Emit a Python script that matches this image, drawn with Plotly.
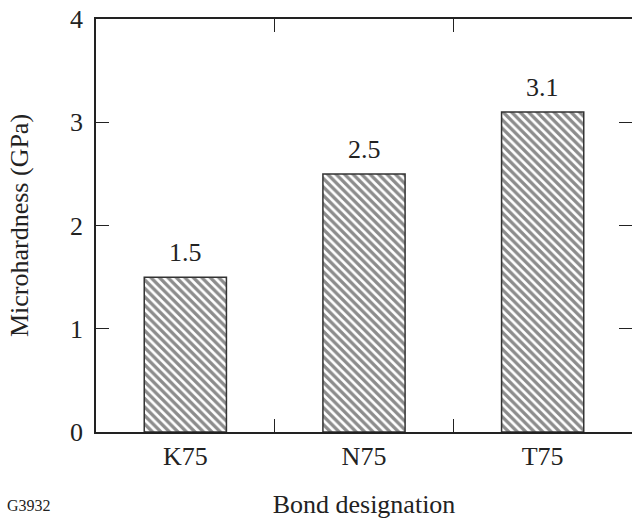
import plotly.graph_objects as go

# Bond microhardness data
bonds = ["K75", "N75", "T75"]
hardness = [1.5, 2.5, 3.1]
hardness_labels = ["1.5", "2.5", "3.1"]
y_ticks = [0, 1, 2, 3, 4]

FONT = "Liberation Serif"
INK = "#222222"
FS = 26

fig = go.Figure()

fig.add_trace(go.Bar(
    x=bonds,
    y=hardness,
    width=0.46,
    marker=dict(
        color="white",
        line=dict(color="#333333", width=1.5),
        pattern=dict(shape="\\", size=6, solidity=0.55,
                     fgcolor="#1a1a1a", bgcolor="white"),
    ),
    showlegend=False,
))

# right-hand inward ticks without a frame line
fig.add_trace(go.Scatter(x=[bonds[0]], y=[0], yaxis="y2", mode="markers",
                         marker=dict(opacity=0), showlegend=False,
                         hoverinfo="skip"))

# value labels above each bar
annotations = [
    dict(x=b, y=v, xref="x", yref="y", text=t, showarrow=False,
         yanchor="bottom", yshift=8,
         font=dict(family=FONT, size=FS, color=INK))
    for b, v, t in zip(bonds, hardness, hardness_labels)
]
annotations.append(dict(
    text="G3932", x=-91 / 536, y=-(505 - 432) / 413,
    xref="paper", yref="paper", xanchor="left", yanchor="middle",
    showarrow=False, font=dict(family=FONT, size=16, color=INK),
))

fig.update_layout(
    width=632, height=519,
    margin=dict(l=96, r=0, t=19, b=87),
    paper_bgcolor="white",
    plot_bgcolor="white",
    font=dict(family=FONT, size=FS, color=INK),
    xaxis=dict(
        type="category",
        range=[-0.5, 2.5],
        tickson="boundaries",
        ticks="inside",
        ticklen=13,
        tickwidth=1.2,
        tickcolor=INK,
        showline=True,
        linecolor=INK,
        linewidth=1.5,
        mirror="ticks",
        showgrid=False,
        tickfont=dict(family=FONT, size=FS, color=INK),
        title=dict(text="Bond designation", standoff=27,
                   font=dict(family=FONT, size=FS, color=INK)),
    ),
    yaxis=dict(
        range=[0, 4],
        tickvals=y_ticks,
        ticks="inside",
        ticklen=13,
        tickwidth=1.2,
        tickcolor=INK,
        showline=True,
        linecolor=INK,
        linewidth=1.5,
        showgrid=False,
        zeroline=False,
        ticklabelstandoff=6,
        tickfont=dict(family=FONT, size=FS, color=INK),
        title=dict(text="Microhardness (GPa)", standoff=34,
                   font=dict(family=FONT, size=FS, color=INK)),
    ),
    yaxis2=dict(
        overlaying="y",
        side="right",
        range=[0, 4],
        tickvals=y_ticks,
        ticks="inside",
        ticklen=13,
        tickwidth=1.2,
        tickcolor=INK,
        showticklabels=False,
        showline=False,
        showgrid=False,
        zeroline=False,
    ),
    annotations=annotations,
)

fig.write_html("out.html")
